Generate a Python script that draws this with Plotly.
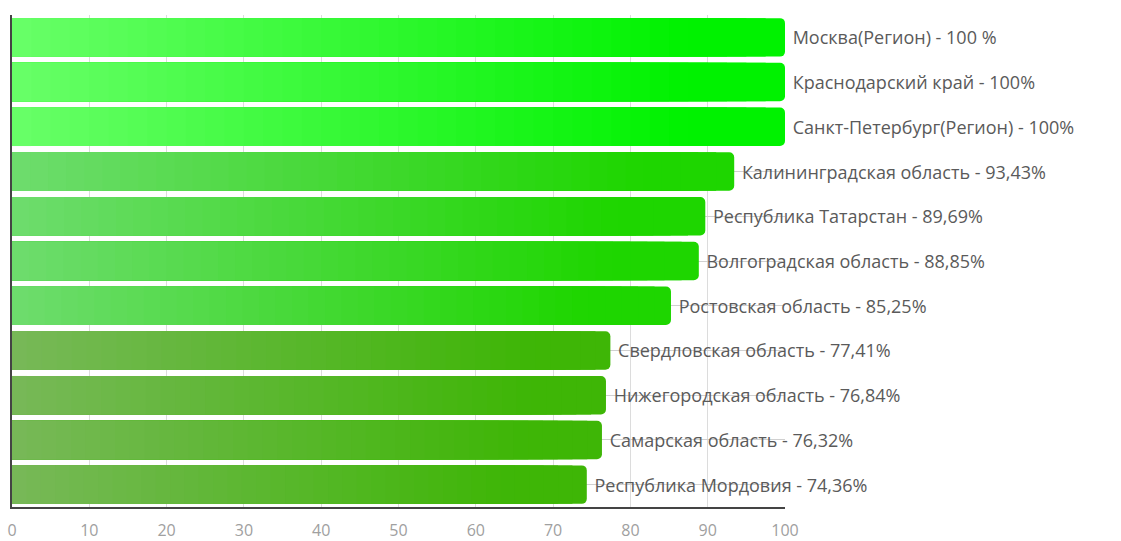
import plotly.graph_objects as go

# ---------------- data ----------------
regions = [
    "Москва(Регион)",
    "Краснодарский край",
    "Санкт-Петербург(Регион)",
    "Калининградская область",
    "Республика Татарстан",
    "Волгоградская область",
    "Ростовская область",
    "Свердловская область",
    "Нижегородская область",
    "Самарская область",
    "Республика Мордовия",
]
values = [100, 100, 100, 93.43, 89.69, 88.85, 85.25, 77.41, 76.84, 76.32, 74.36]
value_labels = ["100 %", "100%", "100%", "93,43%", "89,69%", "88,85%",
                "85,25%", "77,41%", "76,84%", "76,32%", "74,36%"]
x_ticks = [0, 10, 20, 30, 40, 50, 60, 70, 80, 90, 100]

# ---------------- style ----------------
def group_colors(v):
    # (left colour, right colour) of the horizontal gradient
    if v >= 99:
        return (104, 255, 104), (0, 242, 0)
    if v >= 80:
        return (110, 220, 110), (30, 214, 0)
    return (120, 184, 88), (62, 182, 6)

def mix(a, b, t):
    return "rgb(%d,%d,%d)" % tuple(round(a[i] + (b[i] - a[i]) * t) for i in range(3))

labels = ["\u00a0" + r + " - " + p for r, p in zip(regions, value_labels)]

N = 40
fig = go.Figure()
for k in range(N):
    frac = (N - k) / N
    t = min(1.0, ((N - k - 0.5) / N) * 1.15)
    cols = [mix(*group_colors(v), t) for v in values]
    first = k == 0
    fig.add_trace(go.Bar(
        y=regions,
        x=[v * frac for v in values],
        orientation="h",
        marker=dict(color=cols, line_width=0, cornerradius=5 if first else 0),
        text=labels if first else None,
        textposition="outside" if first else "none",
        textfont=dict(family="Open Sans", size=18, color="#5a5a5a"),
        constraintext="none",
        cliponaxis=False,
        hoverinfo="skip",
        showlegend=False,
    ))

fig.update_layout(
    width=1121,
    height=541,
    margin=dict(l=12, r=336, t=15, b=34),
    paper_bgcolor="white",
    plot_bgcolor="white",
    barmode="overlay",
    bargap=0.14,
    font=dict(family="Open Sans"),
)
fig.update_xaxes(
    range=[0, 100],
    tickvals=x_ticks,
    ticktext=[str(v) for v in x_ticks],
    showgrid=True,
    gridcolor="#dcdcdc",
    gridwidth=1,
    zeroline=False,
    showline=True,
    linecolor="#444444",
    linewidth=2,
    ticks="",
    automargin=False,
    ticklabelstandoff=8,
    tickfont=dict(family="Open Sans", size=16, color="#a0a0a0"),
)
fig.update_yaxes(
    categoryorder="array",
    categoryarray=regions,
    autorange="reversed",
    showticklabels=False,
    showgrid=True,
    gridcolor="#d0d0d0",
    gridwidth=1,
    zeroline=False,
    showline=True,
    linecolor="#444444",
    linewidth=2,
    ticks="",
    automargin=False,
)

fig.write_html("out.html")
